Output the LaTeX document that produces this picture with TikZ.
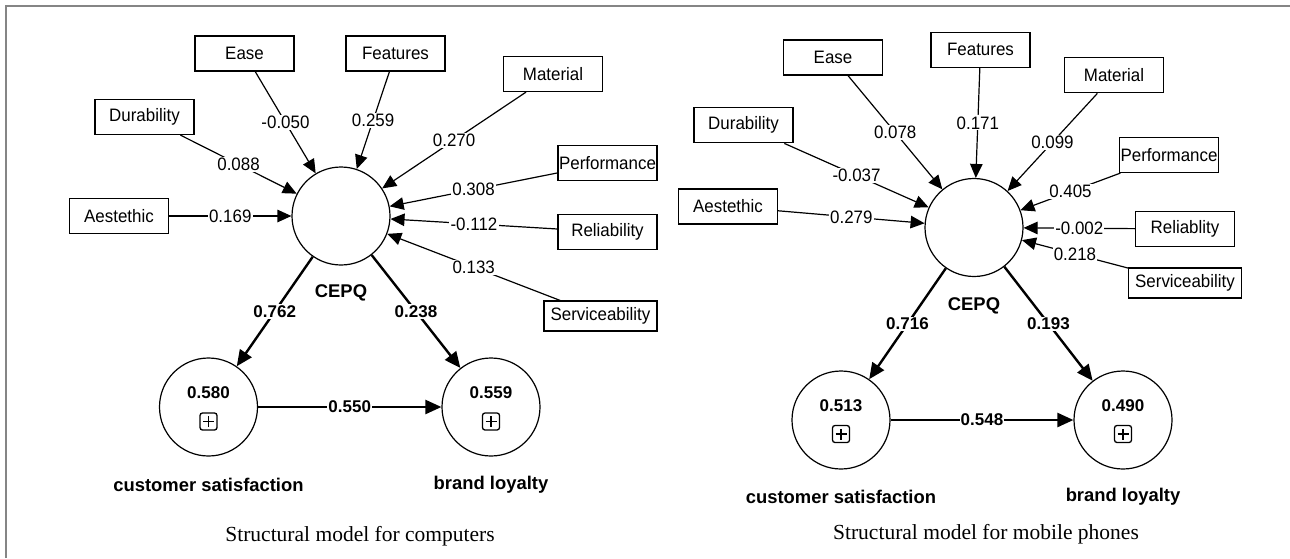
\documentclass[tikz,border=0pt]{standalone}
\usepackage{fontspec}
\setmainfont{Liberation Sans}
\newfontfamily\labelsans{Liberation Sans}[FakeStretch=0.94]
\newfontfamily\captionserif{Liberation Serif}
\usetikzlibrary{arrows.meta}
\definecolor{framegray}{rgb}{0.52,0.52,0.52}
\begin{document}
\begin{tikzpicture}[x=1pt,y=-1pt,
  every node/.style={font=\labelsans\fontsize{18}{21}\selectfont},
  ind/.style={draw, minimum width=99pt, minimum height=35pt, inner sep=0pt, line width=1.2pt},
  indwide/.style={ind, minimum width=113pt, minimum height=30pt},
  latent/.style={draw, circle, minimum size=98pt, inner sep=0pt, line width=1.2pt},
  outerarrow/.style={line width=1.2pt, -{Triangle[length=14pt,width=12.5pt]}},
  innerarrow/.style={line width=2.4pt, -{Triangle[length=16pt,width=14pt]}},
  wt/.style={fill=white, inner sep=1.2pt},
  bwt/.style={fill=white, inner sep=1.2pt, font=\fontsize{17}{20}\selectfont\bfseries},
  lvname/.style={font=\fontsize{18.4}{22}\selectfont\bfseries},
  rsq/.style={font=\fontsize{17}{20}\selectfont\bfseries},
  plusbox/.style={draw, rounded corners=2.5pt, minimum size=17pt, inner sep=0pt, line width=1.3pt,
    path picture={\draw[line width=1.3pt]
      (path picture bounding box.center) +(-5.5pt,0) -- +(5.5pt,0)
      (path picture bounding box.center) +(0,-5.5pt) -- +(0,5.5pt);}},
  capt/.style={font=\captionserif\fontsize{21.5}{26}\selectfont}
]
\useasboundingbox (0,0) rectangle (1290,558);
\fill[white] (0,0) rectangle (1290,558);
% outer frame
\draw[framegray, line width=1.7pt] (5.8,558) -- (5.8,6) -- (1290,6);

% ---------------- computers ----------------
\node[latent] (cepqL) at (341,216) {};
\node[latent] (csL) at (208.5,407) {};
\node[latent] (blL) at (491,407) {};

\node[ind] (easeL) at (244.5,53.5) {Ease};
\node[ind] (featL) at (395.5,53.5) {Features};
\node[ind] (matL) at (553,74) {Material};
\node[ind] (durL) at (144.5,117) {Durability};
\node[ind] (aesL) at (119,216) {Aestethic};
\node[ind] (perfL) at (607.5,163) {Performance};
\node[ind] (relL) at (607.5,232) {Reliability};
\node[indwide] (servL) at (600.5,316) {Serviceability};

\draw[outerarrow] (easeL) -- node[wt] {-0.050} (cepqL);
\draw[outerarrow] (featL) -- node[wt] {0.259} (cepqL);
\draw[outerarrow] (matL) -- node[wt] {0.270} (cepqL);
\draw[outerarrow] (durL) -- node[wt] {0.088} (cepqL);
\draw[outerarrow] (aesL) -- node[wt] {0.169} (cepqL);
\draw[outerarrow] (perfL) -- node[wt] {0.308} (cepqL);
\draw[outerarrow] (relL) -- node[wt] {-0.112} (cepqL);
\draw[outerarrow] (servL) -- node[wt] {0.133} (cepqL);

\draw[innerarrow] (cepqL) -- node[bwt] {0.762} (csL);
\draw[innerarrow] (cepqL) -- node[bwt] {0.238} (blL);
\draw[innerarrow] (csL) -- node[bwt] {0.550} (blL);

\node[lvname] (cepqLname) at (341,293) {CEPQ};
\node[rsq] (csLr) at (208.5,393) {0.580};
\node[plusbox] (csLp) at (208.5,421.5) {};
\node[rsq] (blLr) at (491,393) {0.559};
\node[plusbox] (blLp) at (491,421.5) {};
\node[lvname] (csLname) at (208.5,485) {customer satisfaction};
\node[lvname] (blLname) at (491,485) {brand loyalty};
\node[capt] (captL) at (360,536) {Structural model for computers};

% ---------------- mobile phones ----------------
\node[latent] (cepqR) at (974,227.5) {};
\node[latent] (csR) at (841,420) {};
\node[latent] (blR) at (1123,420) {};

\node[ind] (easeR) at (833,57.5) {Ease};
\node[ind] (featR) at (980.5,49.7) {Features};
\node[ind] (matR) at (1114,75.3) {Material};
\node[ind] (durR) at (743.5,125.3) {Durability};
\node[ind] (aesR) at (728,206.5) {Aestethic};
\node[ind] (perfR) at (1169,155) {Performance};
\node[ind] (relR) at (1185,229) {Reliablity};
\node[indwide] (servR) at (1185,283) {Serviceability};

\draw[outerarrow] (easeR) -- node[wt] {0.078} (cepqR);
\draw[outerarrow] (featR) -- node[wt] {0.171} (cepqR);
\draw[outerarrow] (matR) -- node[wt] {0.099} (cepqR);
\draw[outerarrow] (durR) -- node[wt] {-0.037} (cepqR);
\draw[outerarrow] (aesR) -- node[wt] {0.279} (cepqR);
\draw[outerarrow] (perfR) -- node[wt] {0.405} (cepqR);
\draw[outerarrow] (relR) -- node[wt] {-0.002} (cepqR);
\draw[outerarrow] (servR) -- node[wt] {0.218} (cepqR);

\draw[innerarrow] (cepqR) -- node[bwt] {0.716} (csR);
\draw[innerarrow] (cepqR) -- node[bwt] {0.193} (blR);
\draw[innerarrow] (csR) -- node[bwt] {0.548} (blR);

\node[lvname] (cepqRname) at (974,306) {CEPQ};
\node[rsq] (csRr) at (841,406) {0.513};
\node[plusbox] (csRp) at (841,434) {};
\node[rsq] (blRr) at (1123,406) {0.490};
\node[plusbox] (blRp) at (1123,434) {};
\node[lvname] (csRname) at (841,497) {customer satisfaction};
\node[lvname] (blRname) at (1123,497) {brand loyalty};
\node[capt] (captR) at (986,534) {Structural model for mobile phones};
\end{tikzpicture}
\end{document}
